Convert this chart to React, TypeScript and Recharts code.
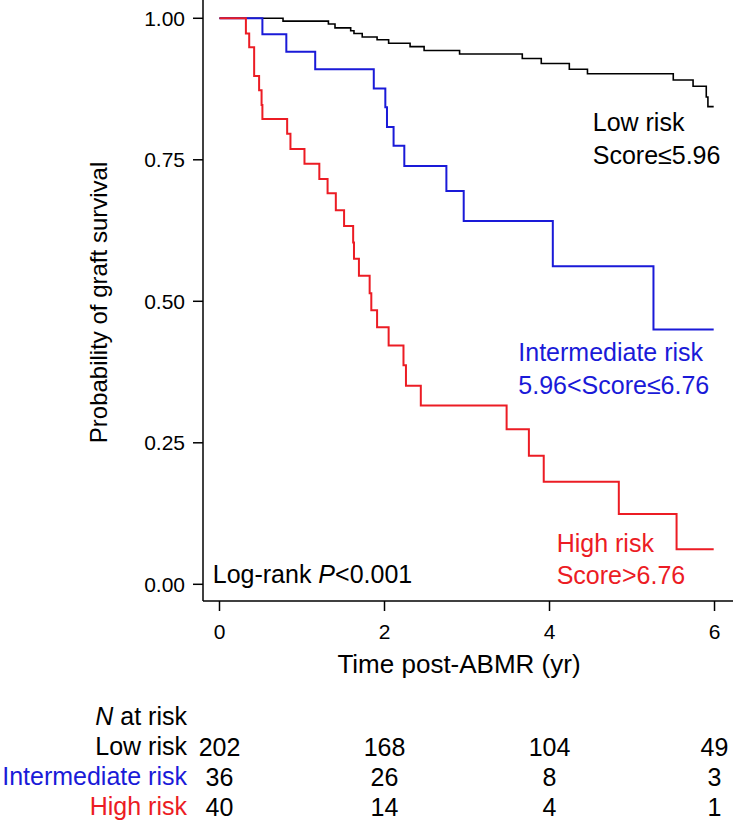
import React from 'react';
import { LineChart, Line, XAxis, YAxis, Label, ReferenceDot } from 'recharts';

// Kaplan-Meier steps (time in years, survival probability)
const lowTimes = [0, 0.77, 1.32, 1.4, 1.59, 1.63, 1.73, 1.91, 2.05, 2.31, 2.48, 2.91, 3.67, 3.9, 4.24, 4.46, 5.5, 5.74, 5.9, 5.92, 5.99];
const lowSurv = [1.0, 0.995, 0.99, 0.983, 0.978, 0.973, 0.967, 0.962, 0.956, 0.95, 0.943, 0.937, 0.929, 0.92, 0.91, 0.902, 0.891, 0.88, 0.861, 0.844, 0.844];

const intTimes = [0, 0.52, 0.81, 1.16, 1.87, 2.01, 2.03, 2.11, 2.24, 2.75, 2.96, 4.04, 5.26, 5.99];
const intSurv = [1.0, 0.972, 0.941, 0.91, 0.876, 0.843, 0.808, 0.775, 0.739, 0.695, 0.642, 0.562, 0.45, 0.45];

const highTimes = [0, 0.32, 0.36, 0.42, 0.48, 0.51, 0.52, 0.82, 0.86, 1.03, 1.21, 1.31, 1.41, 1.51, 1.62, 1.63, 1.69, 1.82, 1.84, 1.91, 2.05, 2.23, 2.26, 2.44, 3.48, 3.75, 3.93, 4.84, 5.54, 5.99];
const highSurv = [1.0, 0.973, 0.949, 0.898, 0.873, 0.847, 0.822, 0.796, 0.769, 0.743, 0.716, 0.691, 0.661, 0.633, 0.604, 0.575, 0.545, 0.514, 0.484, 0.454, 0.422, 0.387, 0.351, 0.316, 0.274, 0.227, 0.181, 0.124, 0.062, 0.062];

const timeTicks = [0, 2, 4, 6];
const survTicks = [0, 0.25, 0.5, 0.75, 1];

// number at risk table
const lowAtRisk = [202, 168, 104, 49];
const intAtRisk = [36, 26, 8, 3];
const highAtRisk = [40, 14, 4, 1];

const BLACK = '#000000';
const BLUE = '#1a1ad8';
const RED = '#ec1c24';
const FONT = '"Liberation Sans", Arial, Helvetica, sans-serif';

const toSeries = (times: number[], surv: number[]) => times.map((t, i) => ({ t, s: surv[i] }));

const lowData = toSeries(lowTimes, lowSurv);
const intData = toSeries(intTimes, intSurv);
const highData = toSeries(highTimes, highSurv);

const X_DOMAIN: [number, number] = [-0.2, 6.224];
const Y_DOMAIN: [number, number] = [-0.0295, 1.0323];

const atRisk = (values: number[]) => (v: number) => {
  const i = timeTicks.indexOf(v);
  return i >= 0 ? String(values[i]) : '';
};

const renderYTitle = (props: any) => {
  const { x, y, height } = props.viewBox;
  const cx = x + 107;
  const cy = y + height / 2 + 2;
  return (
    <text x={cx} y={cy} transform={`rotate(-90, ${cx}, ${cy})`} textAnchor="middle" fontSize={24} fill={BLACK}>
      Probability of graft survival
    </text>
  );
};

const renderXTitle = (props: any) => {
  const { x, y, width } = props.viewBox;
  return (
    <g>
      <text x={x + width / 2 - 9} y={y + 72} textAnchor="middle" fontSize={26} fill={BLACK}>
        Time post-ABMR (yr)
      </text>
      <text x={x - 16} y={y + 124} textAnchor="end" fontSize={25} fill={BLACK}>
        <tspan fontStyle="italic">N</tspan> at risk
      </text>
    </g>
  );
};

const rowLabel = (text: string, color: string) => (props: any) => {
  const { x, y } = props.viewBox;
  return (
    <text x={x - 16} y={y + 17} textAnchor="end" fontSize={25} fill={color}>
      {text}
    </text>
  );
};

const annot = (lines: React.ReactNode[], color: string, gap: number) => (props: any) => {
  const { x, y } = props.viewBox;
  return (
    <text x={x} y={y} fontSize={25} fill={color}>
      {lines.map((l, i) => (
        <tspan key={i} x={x} dy={i === 0 ? 0 : gap}>
          {l}
        </tspan>
      ))}
    </text>
  );
};

const tableAxis = (id: string, values: number[], text: string, color: string, height: number) => (
  <XAxis
    key={id}
    xAxisId={id}
    type="number"
    dataKey="t"
    domain={X_DOMAIN}
    allowDataOverflow
    ticks={timeTicks}
    interval={0}
    axisLine={false}
    tickLine={false}
    tickSize={0}
    tickMargin={0}
    height={height}
    tickFormatter={atRisk(values)}
    tick={{ fill: BLACK, fontSize: 25 }}
  >
    <Label content={rowLabel(text, color)} />
  </XAxis>
);

// invisible series so each table axis has data to build its scale from
const ghost = (id: string, data: { t: number; s: number }[]) => (
  <Line key={`g-${id}`} xAxisId={id} data={data} dataKey="s" stroke="none" dot={false} activeDot={false} legendType="none" isAnimationActive={false} />
);

export default function App() {
  return (
    <div style={{ position: 'absolute', left: 0, top: 0, fontFamily: FONT }}>
      <LineChart width={733} height={824} margin={{ top: 0, right: 0, bottom: 0, left: 0 }}>
        {tableAxis('d_high', highAtRisk, 'High risk', RED, 26)}
        {tableAxis('c_int', intAtRisk, 'Intermediate risk', BLUE, 30)}
        {tableAxis('b_low', lowAtRisk, 'Low risk', BLACK, 30)}
        <XAxis
          xAxisId="a_main"
          type="number"
          dataKey="t"
          domain={X_DOMAIN}
          allowDataOverflow
          ticks={timeTicks}
          interval={0}
          height={137}
          tickSize={10}
          tickMargin={13}
          axisLine={{ stroke: BLACK, strokeWidth: 1.5 }}
          tickLine={{ stroke: BLACK, strokeWidth: 1.5 }}
          tick={{ fill: BLACK, fontSize: 21 }}
        >
          <Label content={renderXTitle} />
        </XAxis>
        <YAxis
          type="number"
          domain={Y_DOMAIN}
          allowDataOverflow
          ticks={survTicks}
          interval={0}
          width={203}
          tickSize={10}
          tickMargin={8}
          tickFormatter={(v: number) => v.toFixed(2)}
          axisLine={{ stroke: BLACK, strokeWidth: 1.5 }}
          tickLine={{ stroke: BLACK, strokeWidth: 1.5 }}
          tick={{ fill: BLACK, fontSize: 21 }}
        >
          <Label content={renderYTitle} />
        </YAxis>

        {ghost('b_low', lowData)}
        {ghost('c_int', intData)}
        {ghost('d_high', highData)}

        <Line xAxisId="a_main" data={lowData} dataKey="s" type="stepAfter" stroke={BLACK} strokeWidth={1.6} dot={false} isAnimationActive={false} />
        <Line xAxisId="a_main" data={intData} dataKey="s" type="stepAfter" stroke={BLUE} strokeWidth={2} dot={false} isAnimationActive={false} />
        <Line xAxisId="a_main" data={highData} dataKey="s" type="stepAfter" stroke={RED} strokeWidth={2} dot={false} isAnimationActive={false} />

        <ReferenceDot xAxisId="a_main" x={4.524} y={0.801} r={0} fill="none" stroke="none"
          label={annot(['Low risk', 'Score≤5.96'], BLACK, 33)} />
        <ReferenceDot xAxisId="a_main" x={3.622} y={0.395} r={0} fill="none" stroke="none"
          label={annot(['Intermediate risk', '5.96<Score≤6.76'], BLUE, 33)} />
        <ReferenceDot xAxisId="a_main" x={4.087} y={0.0576} r={0} fill="none" stroke="none"
          label={annot(['High risk', 'Score>6.76'], RED, 32)} />
        <ReferenceDot xAxisId="a_main" x={-0.082} y={0.0028} r={0} fill="none" stroke="none"
          label={annot([<>Log-rank <tspan fontStyle="italic">P</tspan>{'<0.001'}</>], BLACK, 0)} />
      </LineChart>
    </div>
  );
}
